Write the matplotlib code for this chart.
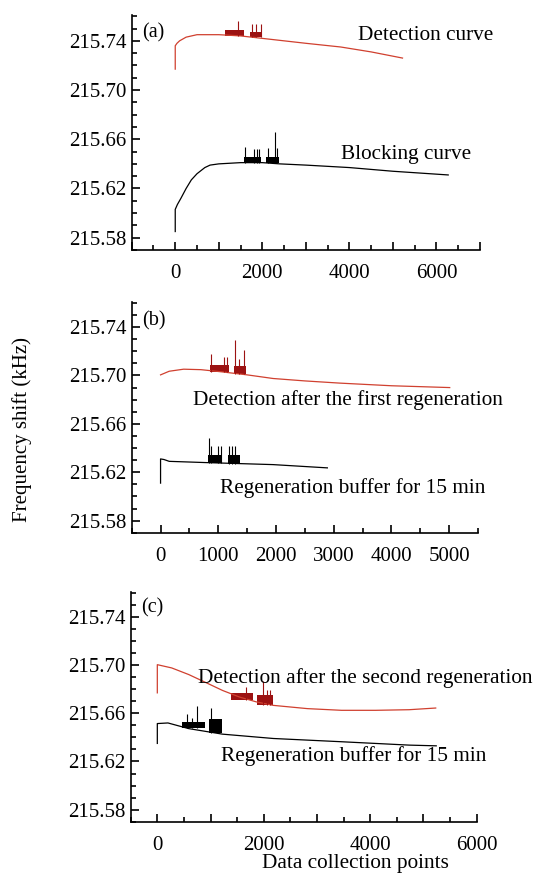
import matplotlib
matplotlib.use("Agg")
import matplotlib.pyplot as plt
from matplotlib.ticker import MultipleLocator, FixedLocator

plt.rcParams['font.family'] = ['Liberation Serif', 'DejaVu Serif']

RED = '#d0402f'
DARK_RED = '#9c1212'

Y_TICKS = [215.58, 215.62, 215.66, 215.70, 215.74]

# ---- panel (a) ----
det_a_x = [0, 0, 40, 100, 250, 500, 1000, 1500, 2000, 2500, 3000, 3800, 4500, 5220]
det_a_y = [215.717, 215.736, 215.738, 215.740, 215.743, 215.745, 215.745, 215.744, 215.742, 215.740, 215.738, 215.735, 215.731, 215.726]
det_a_bursts = [(1150, 1580, 215.7485, 215.744), (1710, 2000, 215.7475, 215.743)]
det_a_spikes = [(1440, 215.7565), (1755, 215.754), (1860, 215.754), (1975, 215.754)]

blk_a_x = [0, 0, 50, 130, 250, 370, 500, 680, 800, 1000, 1500, 2000, 2400, 3000, 4000, 5000, 6270]
blk_a_y = [215.585, 215.603, 215.607, 215.612, 215.620, 215.627, 215.632, 215.637, 215.639, 215.640,
           215.641, 215.641, 215.640, 215.639, 215.637, 215.634, 215.631]
blk_a_bursts = [(1570, 1970, 215.6457, 215.641), (2090, 2375, 215.6457, 215.641)]
blk_a_spikes = [(1595, 215.6534), (1815, 215.652), (1875, 215.652), (1930, 215.652),
                (2120, 215.653), (2300, 215.6663), (2340, 215.653)]

# ---- panel (b) ----
det_b_x = [0, 150, 400, 700, 1060, 1500, 1950, 2500, 3100, 4000, 5010]
det_b_y = [215.7005, 215.7035, 215.7052, 215.7048, 215.7030, 215.7005, 215.6975, 215.6955, 215.6937, 215.6915, 215.690]
det_b_bursts = [(855, 1180, 215.709, 215.7025), (1270, 1488, 215.708, 215.7015)]
det_b_spikes = [(867, 215.718), (1091, 215.715), (1150, 215.715), (1297, 215.729), (1356, 215.714), (1440, 215.721)]

blk_b_x = [0, 0, 60, 150, 770, 1950, 2890]
blk_b_y = [215.611, 215.631, 215.6305, 215.629, 215.628, 215.6263, 215.6236]
blk_b_bursts = [(814, 1073, 215.6342, 215.6275), (1162, 1374, 215.6342, 215.627)]
blk_b_spikes = [(843, 215.6487), (873, 215.6413), (1002, 215.6413), (1044, 215.6413),
                (1191, 215.6413), (1238, 215.6413), (1297, 215.6413)]

# ---- panel (c) ----
det_c_x = [0, 0, 270, 590, 900, 1225, 1545, 1860, 2180, 2820, 3460, 4100, 4730, 5230]
det_c_y = [215.677, 215.7004, 215.6977, 215.6922, 215.6858, 215.679, 215.6735, 215.6695, 215.6666,
           215.6639, 215.6625, 215.6625, 215.663, 215.6644]
det_c_bursts = [(1380, 1790, 215.6765, 215.671), (1870, 2180, 215.675, 215.667)]
det_c_spikes = [(1670, 215.6817), (1985, 215.6872), (2060, 215.679), (2120, 215.679)]

blk_c_x = [0, 0, 200, 590, 1225, 2180, 3460, 4730, 5240]
blk_c_y = [215.635, 215.6515, 215.652, 215.6473, 215.6427, 215.6391, 215.6364, 215.6336, 215.633]
blk_c_bursts = [(460, 905, 215.6529, 215.6475), (980, 1210, 215.6556, 215.644)]
blk_c_spikes = [(555, 215.6597), (650, 215.656), (750, 215.6658), (1000, 215.6644)]

panels = [
    dict(tag='(a)', tag_y=0.923, xlim=(-1000, 7000), xlabels=[0, 2000, 4000, 6000],
         rect=(131.7, 480, 15, 250),
         series=[(det_a_x, det_a_y, det_a_bursts, det_a_spikes, RED, DARK_RED),
                 (blk_a_x, blk_a_y, blk_a_bursts, blk_a_spikes, 'black', 'black')],
         texts=[('Detection curve', 4207, 215.744), ('Blocking curve', 3816, 215.648)]),
    dict(tag='(b)', tag_y=0.918, xlim=(-500, 5500), xlabels=[0, 1000, 2000, 3000, 4000, 5000],
         rect=(131.7, 478, 301.7, 532.7),
         series=[(det_b_x, det_b_y, det_b_bursts, det_b_spikes, RED, DARK_RED),
                 (blk_b_x, blk_b_y, blk_b_bursts, blk_b_spikes, 'black', 'black')],
         texts=[('Detection after the first regeneration', 555, 215.680),
                ('Regeneration buffer for 15 min', 1024, 215.6073)]),
    dict(tag='(c)', tag_y=0.929, xlim=(-500, 6000), xlabels=[0, 2000, 4000, 6000],
         rect=(130.7, 476.7, 591.7, 821.7),
         series=[(det_c_x, det_c_y, det_c_bursts, det_c_spikes, RED, DARK_RED),
                 (blk_c_x, blk_c_y, blk_c_bursts, blk_c_spikes, 'black', 'black')],
         texts=[('Detection after the second regeneration', 756, 215.6894),
                ('Regeneration buffer for 15 min', 1205, 215.6245)]),
]

W, H = 535, 880
fig = plt.figure(figsize=(W / 100, H / 100), dpi=100)

for p in panels:
    left, right, top, bottom = p['rect']
    ax = fig.add_axes([left / W, 1 - bottom / H, (right - left) / W, (bottom - top) / H])
    for xs, ys, bursts, spikes, lc, bc in p['series']:
        ax.plot(xs, ys, color=lc, lw=0.9)
        for x0, x1, ytop, ybase in bursts:
            ax.bar(x0, ytop - ybase, width=x1 - x0, bottom=ybase, align='edge', color=bc, lw=0)
        for sx, sy in spikes:
            base = [b[3] for b in bursts if b[0] - 50 <= sx <= b[1] + 50][0]
            ax.vlines(sx, base, sy, color=bc, lw=0.8)
    for txt, tx, ty in p['texts']:
        ax.text(tx, ty, txt, ha='left', va='center', fontsize=15.3, clip_on=False)
    ax.text(0.03, p['tag_y'], p['tag'], transform=ax.transAxes, ha='left', va='center', fontsize=14.5)

    ax.set_xlim(*p['xlim'])
    ax.set_ylim(215.57, 215.761)
    ax.spines['top'].set_visible(False)
    ax.spines['right'].set_visible(False)
    # long ticks every 1000, labels only at the listed values
    lo, hi = p['xlim']
    major = list(range(lo - lo % 1000 if lo % 1000 else lo, hi + 1, 1000))
    ax.set_xticks(major, [str(v) if v in p['xlabels'] else '' for v in major])
    ax.xaxis.set_minor_locator(MultipleLocator(500))
    ax.set_xlim(*p['xlim'])
    ax.yaxis.set_major_locator(FixedLocator(Y_TICKS))
    ax.yaxis.set_minor_locator(MultipleLocator(0.01))
    ax.yaxis.set_major_formatter(lambda v, pos: f'{v:.2f}')
    ax.tick_params(which='both', direction='in', labelsize=15, width=1.2)
    ax.tick_params(which='major', length=6)
    ax.tick_params(which='minor', length=3.5)
    ax.tick_params(axis='x', pad=10)
    for s in ('left', 'bottom'):
        ax.spines[s].set_linewidth(1.2)

fig.text(22 / W, 1 - 430 / H, 'Frequency shift (kHz)', rotation=90, ha='center', va='center', fontsize=15)
fig.text(355 / W, 1 - 863 / H, 'Data collection points', ha='center', va='center', fontsize=15.3)

fig.savefig('out.png', dpi=100)
